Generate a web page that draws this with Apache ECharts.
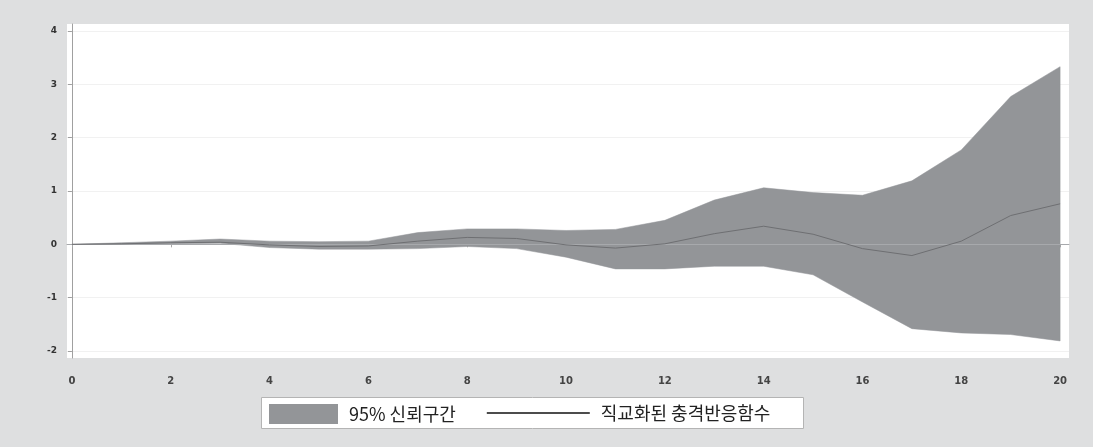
<!DOCTYPE html>
<html>
<head>
<meta charset="utf-8">
<script src="https://cdn.jsdelivr.net/npm/echarts@6.0.0/dist/echarts.min.js"></script>
<style>
  html, body { margin: 0; padding: 0; background: #dedfe0; }
  #chartshow { width: 1093px; height: 447px; }
</style>
</head>
<body>
<div id="chartshow"></div>
<script>
// 기간 (x축)
const periods = [0, 1, 2, 3, 4, 5, 6, 7, 8, 9, 10, 11, 12, 13, 14, 15, 16, 17, 18, 19, 20];
// 95% 신뢰구간 하한 / 상한
const lowerBand = [0, 0.0, 0.01, 0.02, -0.06, -0.09, -0.09, -0.08, -0.04, -0.08, -0.24, -0.46, -0.46, -0.41, -0.41, -0.57, -1.08, -1.58, -1.66, -1.69, -1.81];
const upperBand = [0, 0.03, 0.06, 0.10, 0.06, 0.05, 0.06, 0.22, 0.29, 0.29, 0.26, 0.28, 0.45, 0.83, 1.06, 0.97, 0.92, 1.19, 1.77, 2.77, 3.33];
// 직교화된 충격반응함수
const irf = [0, 0.01, 0.03, 0.04, -0.01, -0.04, -0.03, 0.06, 0.13, 0.11, -0.01, -0.07, 0.01, 0.20, 0.34, 0.19, -0.08, -0.21, 0.06, 0.54, 0.76];
// 눈금
const xTicks = [0, 2, 4, 6, 8, 10, 12, 14, 16, 18, 20];
const yTicks = [-2, -1, 0, 1, 2, 3, 4];

const bandName = '95% 신뢰구간';
const lineName = '직교화된 충격반응함수';

const bandData = periods.map((p, i) => [p, lowerBand[i], upperBand[i]]);
const irfData = periods.map((p, i) => [p, irf[i]]);

// 신뢰구간 영역을 하나의 다각형으로 그림
const renderBand = (params, api) => {
  if (params.dataIndex !== 0) return;
  const pts = [];
  for (let i = 0; i < periods.length; i++) {
    pts.push(api.coord([periods[i], upperBand[i]]));
  }
  for (let i = periods.length - 1; i >= 0; i--) {
    pts.push(api.coord([periods[i], lowerBand[i]]));
  }
  return {
    type: 'polygon',
    shape: { points: pts },
    style: { fill: '#939598', stroke: '#939598', lineWidth: 0.5 },
  };
};

const myChart = echarts.init(document.getElementById('chartshow'));

const chart_option = {
  backgroundColor: '#dedfe0',
  animation: false,
  grid: {
    left: 67,
    right: 24,
    top: 24,
    bottom: 89,
    show: true,
    backgroundColor: '#ffffff',
    borderWidth: 0,
  },
  xAxis: {
    type: 'value',
    min: -0.1,
    max: 20.18,
    position: 'bottom',
    offset: 11,
    axisLine: { show: true, lineStyle: { color: '#a9a9a9', width: 1 } },
    axisTick: { show: true, customValues: xTicks, length: 3, lineStyle: { color: '#a9a9a9' } },
    axisLabel: {
      customValues: xTicks,
      margin: 7,
      fontSize: 10,
      fontWeight: 'bold',
      color: '#444',
      fontFamily: 'DejaVu Sans',
    },
    splitLine: { show: false },
  },
  yAxis: {
    type: 'value',
    min: -2.13,
    max: 4.13,
    axisLine: { show: true, lineStyle: { color: '#a0a0a0', width: 1 } },
    axisTick: { show: true, customValues: yTicks, length: 4, lineStyle: { color: '#a0a0a0' } },
    axisLabel: {
      customValues: yTicks,
      margin: 10,
      fontSize: 9,
      fontWeight: 'bold',
      color: '#333',
      fontFamily: 'DejaVu Sans',
    },
    splitLine: { show: true, lineStyle: { color: '#f1f1f1', width: 1 } },
  },
  legend: [
    {
      data: [{ name: bandName, icon: 'rect', itemStyle: { color: '#939598' } }],
      left: 269,
      top: 404,
      padding: 0,
      itemWidth: 69,
      itemHeight: 20,
      selectedMode: false,
      textStyle: {
        fontFamily: 'Noto Sans CJK KR',
        fontSize: 18,
        color: '#222',
        padding: [0, 0, 0, 6],
      },
    },
    {
      data: [{ name: lineName, lineStyle: { color: '#111', width: 1.6 }, itemStyle: { opacity: 0 } }],
      left: 486,
      top: 404,
      padding: 0,
      itemWidth: 103,
      itemHeight: 20,
      selectedMode: false,
      textStyle: {
        fontFamily: 'Noto Sans CJK KR',
        fontSize: 18,
        color: '#222',
        padding: [0, 0, 0, 6],
      },
    },
  ],
  graphic: [
    {
      type: 'rect',
      z: -1,
      shape: { x: 261.5, y: 397.5, width: 542, height: 31 },
      style: { fill: '#ffffff', stroke: '#b4b4b4', lineWidth: 1 },
    },
  ],
  series: [
    {
      name: bandName,
      type: 'custom',
      renderItem: renderBand,
      data: bandData,
      encode: { x: 0, y: [1, 2] },
      itemStyle: { color: '#939598' },
      silent: true,
      z: 2,
    },
    {
      name: lineName,
      type: 'line',
      data: irfData,
      symbol: 'none',
      z: 5,
      lineStyle: { color: '#6e6f72', width: 1 },
      itemStyle: { color: '#222' },
      markLine: {
        silent: true,
        symbol: 'none',
        label: { show: false },
        lineStyle: { color: '#a7a9ac', width: 1, type: 'solid' },
        data: [{ yAxis: 0 }],
      },
    },
  ],
};

myChart.setOption(chart_option);
</script>
</body>
</html>
